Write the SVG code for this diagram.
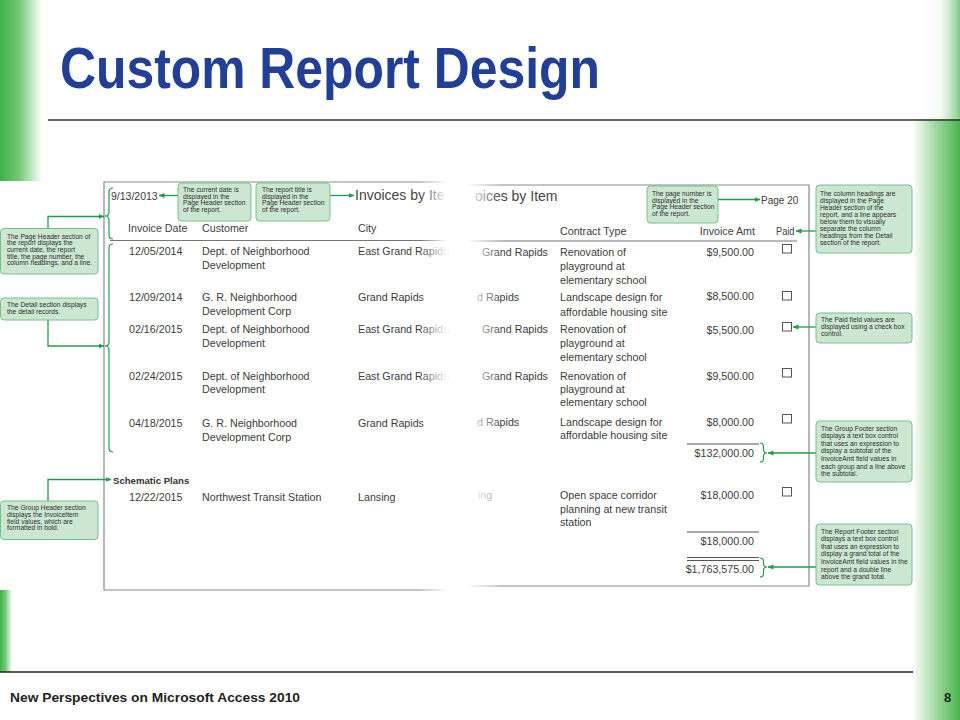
<svg xmlns="http://www.w3.org/2000/svg" width="960" height="720" viewBox="0 0 960 720">
<defs>
<style>
.t{font-family:"Liberation Sans",Arial,sans-serif;font-size:10.7px;fill:#3c3c3c}
.h{font-family:"Liberation Sans",Arial,sans-serif;font-size:10.7px;fill:#404040}
.r{text-anchor:end}
.c{font-family:"Liberation Sans",Arial,sans-serif;font-size:6.7px;fill:#2e2e2e}
.box{fill:#cbe7d1;stroke:#74c28a;stroke-width:1}
.ln{stroke:#1f9d4b;stroke-width:1.3;fill:none}
.br{stroke:#1f9d4b;stroke-width:1.2;fill:none}
.cb{fill:#fff;stroke:#555;stroke-width:1}
.bd{stroke:#8a8a8a;stroke-width:1.2;fill:none}
</style>
<marker id="ah" markerWidth="6" markerHeight="6" refX="5.5" refY="3" orient="auto" markerUnits="userSpaceOnUse">
<path d="M0,0.6 L6,3 L0,5.4 z" fill="#1f9d4b"/>
</marker>
<linearGradient id="gl" x1="0" y1="0" x2="1" y2="0">
<stop offset="0" stop-color="#3cb24a"/><stop offset="0.45" stop-color="#74c874"/><stop offset="1" stop-color="#ffffff"/>
</linearGradient>
<linearGradient id="gr" x1="0" y1="0" x2="1" y2="0">
<stop offset="0" stop-color="#ffffff"/><stop offset="0.5" stop-color="#9fd99f"/><stop offset="1" stop-color="#49b54d"/>
</linearGradient>
<linearGradient id="gtop" x1="0" y1="0" x2="1" y2="0">
<stop offset="0" stop-color="#ffffff" stop-opacity="1"/><stop offset="0.6" stop-color="#ffffff" stop-opacity="0.9"/><stop offset="1" stop-color="#ffffff" stop-opacity="0.3"/>
</linearGradient>
<linearGradient id="fadeR" x1="0" y1="0" x2="1" y2="0">
<stop offset="0" stop-color="#ffffff" stop-opacity="0"/><stop offset="1" stop-color="#ffffff" stop-opacity="1"/>
</linearGradient>
<linearGradient id="fadeL" x1="0" y1="0" x2="1" y2="0">
<stop offset="0" stop-color="#ffffff" stop-opacity="1"/><stop offset="1" stop-color="#ffffff" stop-opacity="0"/>
</linearGradient>
</defs>

<g id="background">
<rect x="0" y="0" width="960" height="720" fill="#ffffff"/>
<rect x="0" y="0" width="42" height="182" fill="url(#gl)"/>
<rect x="0" y="590" width="12" height="82" fill="url(#gl)"/>
<rect x="912" y="0" width="48" height="720" fill="url(#gr)"/>
<rect x="912" y="0" width="48" height="119" fill="url(#gtop)"/>
<rect x="0" y="181" width="915" height="409" fill="#ffffff"/>
</g>

<g id="title">
<text x="60" y="88" font-family="'Liberation Sans',Arial,sans-serif" font-weight="bold" font-size="57" fill="#213f99" textLength="540" lengthAdjust="spacingAndGlyphs">Custom Report Design</text>
<line x1="48" y1="120" x2="960" y2="120" stroke="#333" stroke-width="1.5"/>
</g>

<g id="report">
<!-- left piece -->
<path class="bd" d="M446,182 H104 V590 H446"/>
<text class="t" x="111" y="199.5" style="font-size:10.5px">9/13/2013</text>
<text x="355" y="200" font-family="'Liberation Sans',Arial,sans-serif" font-size="14" fill="#454545">Invoices by Ite</text>
<text class="h" x="128" y="232">Invoice Date</text>
<text class="h" x="202" y="232">Customer</text>
<text class="h" x="358" y="232">City</text>
<line x1="110" y1="240.5" x2="446" y2="240.5" stroke="#777" stroke-width="1.2"/>

<text class="t" x="129" y="255">12/05/2014</text>
<text class="t" x="202" y="255">Dept. of Neighborhood</text>
<text class="t" x="202" y="268.5">Development</text>
<text class="t" x="358" y="255">East Grand Rapids</text>

<text class="t" x="129" y="301">12/09/2014</text>
<text class="t" x="202" y="301">G. R. Neighborhood</text>
<text class="t" x="202" y="315">Development Corp</text>
<text class="t" x="358" y="301">Grand Rapids</text>

<text class="t" x="129" y="333">02/16/2015</text>
<text class="t" x="202" y="333">Dept. of Neighborhood</text>
<text class="t" x="202" y="347">Development</text>
<text class="t" x="358" y="333">East Grand Rapids</text>

<text class="t" x="129" y="380">02/24/2015</text>
<text class="t" x="202" y="380">Dept. of Neighborhood</text>
<text class="t" x="202" y="393">Development</text>
<text class="t" x="358" y="380">East Grand Rapids</text>

<text class="t" x="129" y="427">04/18/2015</text>
<text class="t" x="202" y="427">G. R. Neighborhood</text>
<text class="t" x="202" y="441">Development Corp</text>
<text class="t" x="358" y="427">Grand Rapids</text>

<text x="113" y="483.5" font-family="'Liberation Sans',Arial,sans-serif" font-weight="bold" font-size="9.6" fill="#333">Schematic Plans</text>
<text class="t" x="129" y="501">12/22/2015</text>
<text class="t" x="202" y="501">Northwest Transit Station</text>
<text class="t" x="358" y="501">Lansing</text>
<rect x="420" y="175" width="28" height="420" fill="url(#fadeR)"/>

<!-- right piece -->
<path class="bd" d="M468,185 H809 V586 H468" stroke-width="1.6" stroke="#9a9a9a"/>
<text x="475" y="201" font-family="'Liberation Sans',Arial,sans-serif" font-size="14" fill="#454545">oices by Item</text>
<text class="h" x="761" y="203.5" style="font-size:10px">Page 20</text>
<text class="h" x="560" y="235">Contract Type</text>
<text class="h r" x="755" y="235">Invoice Amt</text>
<text class="h" x="776" y="235" textLength="18.5" lengthAdjust="spacingAndGlyphs">Paid</text>
<line x1="468" y1="241" x2="797" y2="241" stroke="#777" stroke-width="1.2"/>

<text class="t" x="482" y="256">Grand Rapids</text>
<text class="t" x="560" y="256">Renovation of</text>
<text class="t" x="560" y="270">playground at</text>
<text class="t" x="560" y="284">elementary school</text>
<text class="t r" x="754" y="256">$9,500.00</text>
<rect class="cb" x="782.5" y="244.5" width="9" height="8.5"/>

<text class="t" x="477" y="301">d Rapids</text>
<text class="t" x="560" y="301">Landscape design for</text>
<text class="t" x="560" y="316">affordable housing site</text>
<text class="t r" x="754" y="300">$8,500.00</text>
<rect class="cb" x="782.5" y="291.5" width="9" height="8.5"/>

<text class="t" x="482" y="333">Grand Rapids</text>
<text class="t" x="560" y="333">Renovation of</text>
<text class="t" x="560" y="347">playground at</text>
<text class="t" x="560" y="361">elementary school</text>
<text class="t r" x="754" y="333.5">$5,500.00</text>
<rect class="cb" x="782.5" y="322.5" width="9" height="8.5"/>

<text class="t" x="482" y="380">Grand Rapids</text>
<text class="t" x="560" y="380">Renovation of</text>
<text class="t" x="560" y="393">playground at</text>
<text class="t" x="560" y="406">elementary school</text>
<text class="t r" x="754" y="380">$9,500.00</text>
<rect class="cb" x="782.5" y="368.5" width="9" height="8.5"/>

<text class="t" x="477" y="426">d Rapids</text>
<text class="t" x="560" y="426">Landscape design for</text>
<text class="t" x="560" y="439">affordable housing site</text>
<text class="t r" x="754" y="426">$8,000.00</text>
<rect class="cb" x="782.5" y="414.5" width="9" height="8.5"/>

<line x1="687" y1="444" x2="759" y2="444" stroke="#555" stroke-width="1.1"/>
<text class="t r" x="754" y="457">$132,000.00</text>

<text class="t" x="478" y="499" style="fill:#9a9a9a">ing</text>
<text class="t" x="560" y="499">Open space corridor</text>
<text class="t" x="560" y="513">planning at new transit</text>
<text class="t" x="560" y="526">station</text>
<text class="t r" x="754" y="499">$18,000.00</text>
<rect class="cb" x="782.5" y="487.5" width="9" height="8.5"/>

<line x1="687" y1="532" x2="759" y2="532" stroke="#555" stroke-width="1.1"/>
<text class="t r" x="754" y="545">$18,000.00</text>
<line x1="687" y1="557.5" x2="759" y2="557.5" stroke="#555" stroke-width="1"/>
<line x1="687" y1="560.5" x2="759" y2="560.5" stroke="#555" stroke-width="1"/>
<text class="t r" x="754" y="573">$1,763,575.00</text>
<rect x="466" y="175" width="36" height="420" fill="url(#fadeL)"/>
</g>

<g id="braces">
<path class="br" d="M113,188 Q109,188 109,192 V212 Q109,216 105,216 Q109,216 109,220 V235 Q109,239 113,239"/>
<path class="br" d="M113,244 Q109,244 109,248 V342 Q109,346 105,346 Q109,346 109,350 V448 Q109,452 113,452"/>
<path class="br" d="M760,443 Q763.5,443 763.5,446.5 V449.5 Q763.5,453 767,453 Q763.5,453 763.5,456.5 V459 Q763.5,462 760,462"/>
<path class="br" d="M760,558 Q763.5,558 763.5,561.5 V563.5 Q763.5,567 767,567 Q763.5,567 763.5,570.5 V574 Q763.5,577 760,577"/>
</g>

<g id="connectors">
<path class="ln" d="M48,229 V216.5 H104" marker-end="url(#ah)"/>
<path class="ln" d="M48,320 V346 H104" marker-end="url(#ah)"/>
<path class="ln" d="M48,501 V479.5 H111" marker-end="url(#ah)"/>
<path class="ln" d="M178,195.5 H159" marker-end="url(#ah)"/>
<path class="ln" d="M330,195.5 H354" marker-end="url(#ah)"/>
<path class="ln" d="M718,199.5 H760" marker-end="url(#ah)"/>
<path class="ln" d="M816,231 H796" marker-end="url(#ah)"/>
<path class="ln" d="M816,327 H793" marker-end="url(#ah)"/>
<path class="ln" d="M816,453 H768" marker-end="url(#ah)"/>
<path class="ln" d="M816,567 H768" marker-end="url(#ah)"/>
</g>

<g id="callout-page-header">
<rect class="box" x="0.5" y="228.5" width="97.5" height="45.5" rx="3.5"/>
<text class="c" x="7" y="238.5">The Page Header section of</text>
<text class="c" x="7" y="245.2">the report displays the</text>
<text class="c" x="7" y="251.9">current date, the report</text>
<text class="c" x="7" y="258.6">title, the page number, the</text>
<text class="c" x="7" y="265.3">column headings, and a line.</text>
</g>

<g id="callout-detail">
<rect class="box" x="0.5" y="298" width="97.5" height="22" rx="3.5"/>
<text class="c" x="7" y="307">The Detail section displays</text>
<text class="c" x="7" y="314">the detail records.</text>
</g>

<g id="callout-group-header">
<rect class="box" x="0.5" y="501" width="97.5" height="38.5" rx="3.5"/>
<text class="c" x="7" y="510.3">The Group Header section</text>
<text class="c" x="7" y="517">displays the InvoiceItem</text>
<text class="c" x="7" y="523.7">field values, which are</text>
<text class="c" x="7" y="530.4">formatted in bold.</text>
</g>

<g id="callout-date">
<rect class="box" x="178" y="183" width="73" height="38" rx="3.5"/>
<text class="c" x="183" y="192">The current date is</text>
<text class="c" x="183" y="198.6">displayed in the</text>
<text class="c" x="183" y="205.3">Page Header section</text>
<text class="c" x="183" y="212">of the report.</text>
</g>

<g id="callout-title">
<rect class="box" x="256" y="183" width="74" height="38" rx="3.5"/>
<text class="c" x="262" y="192">The report title is</text>
<text class="c" x="262" y="198.6">displayed in the</text>
<text class="c" x="262" y="205.3">Page Header section</text>
<text class="c" x="262" y="212">of the report.</text>
</g>

<g id="callout-page-number">
<rect class="box" x="647" y="186" width="71" height="37" rx="3.5"/>
<text class="c" x="652" y="196">The page number is</text>
<text class="c" x="652" y="202.7">displayed in the</text>
<text class="c" x="652" y="209.4">Page Header section</text>
<text class="c" x="652" y="216.1">of the report.</text>
</g>

<g id="callout-column-headings">
<rect class="box" x="816" y="185" width="96" height="68" rx="3.5"/>
<text class="c" x="820" y="195.5">The column headings are</text>
<text class="c" x="820" y="202.6">displayed in the Page</text>
<text class="c" x="820" y="209.7">Header section of the</text>
<text class="c" x="820" y="216.8">report, and a line appears</text>
<text class="c" x="820" y="223.9">below them to visually</text>
<text class="c" x="820" y="231">separate the column</text>
<text class="c" x="820" y="238.1">headings from the Detail</text>
<text class="c" x="820" y="245.2">section of the report.</text>
</g>

<g id="callout-paid">
<rect class="box" x="816" y="313" width="96" height="30" rx="3.5"/>
<text class="c" x="821" y="321.5">The Paid field values are</text>
<text class="c" x="821" y="328.7">displayed using a check box</text>
<text class="c" x="821" y="335.9">control.</text>
</g>

<g id="callout-group-footer">
<rect class="box" x="816" y="421" width="96" height="61" rx="3.5"/>
<text class="c" x="821" y="430.5">The Group Footer section</text>
<text class="c" x="821" y="438.1">displays a text box control</text>
<text class="c" x="821" y="445.7">that uses an expression to</text>
<text class="c" x="821" y="453.3">display a subtotal of the</text>
<text class="c" x="821" y="460.9">InvoiceAmt field values in</text>
<text class="c" x="821" y="468.5">each group and a line above</text>
<text class="c" x="821" y="476.1">the subtotal.</text>
</g>

<g id="callout-report-footer">
<rect class="box" x="816" y="524" width="96" height="61" rx="3.5"/>
<text class="c" x="821" y="533.5">The Report Footer section</text>
<text class="c" x="821" y="541.1">displays a text box control</text>
<text class="c" x="821" y="548.7">that uses an expression to</text>
<text class="c" x="821" y="556.3">display a grand total of the</text>
<text class="c" x="821" y="563.9">InvoiceAmt field values in the</text>
<text class="c" x="821" y="571.5">report and a double line</text>
<text class="c" x="821" y="579.1">above the grand total.</text>
</g>

<g id="footer">
<line x1="0" y1="672" x2="913" y2="672" stroke="#222" stroke-width="1.3"/>
<text x="10" y="701.5" font-family="'Liberation Sans',Arial,sans-serif" font-weight="bold" font-size="13" fill="#222" textLength="290" lengthAdjust="spacingAndGlyphs">New Perspectives on Microsoft Access 2010</text>
<text x="944" y="701.5" font-family="'Liberation Sans',Arial,sans-serif" font-weight="bold" font-size="13" fill="#222">8</text>
</g>
</svg>
